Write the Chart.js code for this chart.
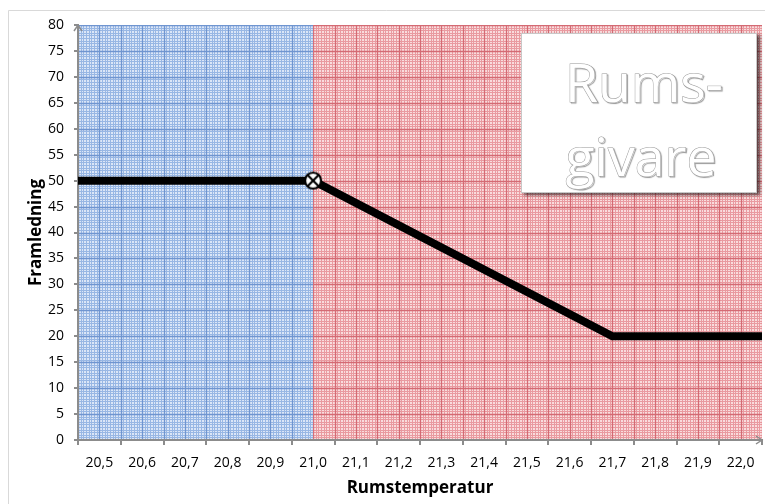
<!DOCTYPE html>
<html>
<head>
<meta charset="utf-8">
<title>Rumsgivare</title>
<script src="https://cdn.jsdelivr.net/npm/chart.js@4.4.1/dist/chart.umd.min.js"></script>
<style>
  html, body { margin: 0; padding: 0; background: #ffffff; }
  #wrap { width: 765px; height: 504px; }
</style>
</head>
<body>
<div id="wrap"><canvas id="chart" width="765" height="504"></canvas></div>
<script>
// Room temperature categories shown on the x axis
const tempLabels = ['20,5', '20,6', '20,7', '20,8', '20,9', '21,0', '21,1', '21,2',
                    '21,3', '21,4', '21,5', '21,6', '21,7', '21,8', '21,9', '22,0'];
// Flow temperature tick values on the y axis
const flowTicks = [0, 5, 10, 15, 20, 25, 30, 35, 40, 45, 50, 55, 60, 65, 70, 75, 80];

// Control curve: room temperature -> flow temperature
const curveTemp = [20.45, 21.0, 21.7, 22.05];
const curveFlow = [50, 50, 20, 20];
// Setpoint where heating (blue) turns into reduction (red)
const setpointTemp = 21.0;
const markerIndex = 1;

const FONT = '"Open Sans", "Liberation Sans", sans-serif';
const AXIS_GREY = '#8c8c8c';

// Circle-with-cross marker used at the setpoint
function makeMarker() {
  const c = document.createElement('canvas');
  c.width = 22; c.height = 22;
  const g = c.getContext('2d');
  const r = 8, cx = 11, cy = 11;
  g.beginPath(); g.arc(cx, cy, r, 0, Math.PI * 2);
  g.fillStyle = '#ffffff'; g.fill();
  g.lineWidth = 2.2; g.strokeStyle = '#000000'; g.stroke();
  const d = r * Math.SQRT1_2;
  g.beginPath();
  g.moveTo(cx - d, cy - d); g.lineTo(cx + d, cy + d);
  g.moveTo(cx + d, cy - d); g.lineTo(cx - d, cy + d);
  g.stroke();
  return c;
}
const marker = makeMarker();

// Graph-paper background, chart frame and axis arrows
const paperPlugin = {
  id: 'paper',
  beforeDraw(chart) {
    const ctx = chart.ctx;
    const a = chart.chartArea;
    const xs = chart.scales.xv, ys = chart.scales.y;
    ctx.save();
    ctx.fillStyle = '#ffffff';
    ctx.fillRect(0, 0, chart.width, chart.height);
    // outer frame
    ctx.strokeStyle = '#d9d9d9'; ctx.lineWidth = 1;
    ctx.beginPath();
    ctx.moveTo(8.5, chart.height); ctx.lineTo(8.5, 10.5); ctx.lineTo(chart.width, 10.5);
    ctx.stroke();

    const split = xs.getPixelForValue(setpointTemp);
    const regions = [
      { x0: a.left, x1: split, base: '#dbe6f7', fine: '#98b7e4', major: '#6f95d0' },
      { x0: split, x1: a.right, base: '#f9dcdd', fine: '#e99aa0', major: '#d46a73' }
    ];
    const xMajor = 0.05, xFine = xMajor / 8;
    const yMajor = 5, yFine = 0.5;
    const x0v = xs.min;
    regions.forEach(r => {
      ctx.save();
      ctx.beginPath(); ctx.rect(r.x0, a.top, r.x1 - r.x0, a.bottom - a.top); ctx.clip();
      ctx.fillStyle = r.base;
      ctx.fillRect(r.x0, a.top, r.x1 - r.x0, a.bottom - a.top);
      // fine lines
      ctx.strokeStyle = r.fine; ctx.lineWidth = 1;
      ctx.beginPath();
      for (let v = x0v; v <= xs.max + 1e-9; v += xFine) {
        const px = Math.round(xs.getPixelForValue(v)) + 0.5;
        ctx.moveTo(px, a.top); ctx.lineTo(px, a.bottom);
      }
      for (let v = 0; v <= ys.max + 1e-9; v += yFine) {
        const py = Math.round(ys.getPixelForValue(v)) + 0.5;
        ctx.moveTo(a.left, py); ctx.lineTo(a.right, py);
      }
      ctx.stroke();
      // major lines
      ctx.strokeStyle = r.major; ctx.lineWidth = 1.3;
      ctx.beginPath();
      for (let v = x0v; v <= xs.max + 1e-9; v += xMajor) {
        const px = Math.round(xs.getPixelForValue(v)) + 0.5;
        ctx.moveTo(px, a.top); ctx.lineTo(px, a.bottom);
      }
      for (let v = 0; v <= ys.max + 1e-9; v += yMajor) {
        const py = Math.round(ys.getPixelForValue(v)) + 0.5;
        ctx.moveTo(a.left, py); ctx.lineTo(a.right, py);
      }
      ctx.stroke();
      ctx.restore();
    });
    ctx.restore();
  },
  afterDraw(chart) {
    const ctx = chart.ctx;
    const a = chart.chartArea;
    ctx.save();
    // axis arrow heads
    ctx.strokeStyle = AXIS_GREY; ctx.lineWidth = 1.5;
    ctx.beginPath();
    ctx.moveTo(a.left - 4, a.top + 6); ctx.lineTo(a.left, a.top); ctx.lineTo(a.left + 4, a.top + 6);
    ctx.moveTo(a.right - 6, a.bottom - 4); ctx.lineTo(a.right, a.bottom); ctx.lineTo(a.right - 6, a.bottom + 4);
    ctx.stroke();

    // "Rumsgivare" text box
    const bx = 521, by = 33, bw = 236, bh = 160;
    ctx.save();
    ctx.shadowColor = 'rgba(0,0,0,0.6)';
    ctx.shadowOffsetX = 3; ctx.shadowOffsetY = 2; ctx.shadowBlur = 3;
    ctx.fillStyle = '#ffffff';
    ctx.fillRect(bx, by, bw, bh);
    ctx.restore();
    ctx.strokeStyle = '#c8c8c8'; ctx.lineWidth = 1;
    ctx.strokeRect(bx + 0.5, by + 0.5, bw - 1, bh - 1);

    const lines = [{ t: 'Rums-', y: 102, x: 644 }, { t: 'givare', y: 176, x: 641 }];
    ctx.font = '100px ' + FONT;
    const size = 100 * 158 / ctx.measureText('Rums-').width;
    ctx.font = size.toFixed(1) + 'px ' + FONT;
    ctx.textAlign = 'center'; ctx.textBaseline = 'alphabetic';
    lines.forEach(l => {
      ctx.save();
      ctx.shadowColor = 'rgba(0,0,0,0.45)';
      ctx.shadowOffsetX = 1.2; ctx.shadowOffsetY = 1.2; ctx.shadowBlur = 1;
      ctx.strokeStyle = '#9a9a9a'; ctx.lineWidth = 1;
      ctx.strokeText(l.t, l.x, l.y);
      ctx.restore();
      ctx.fillStyle = '#ffffff';
      ctx.fillText(l.t, l.x, l.y);
    });
    ctx.restore();
  }
};

new Chart(document.getElementById('chart'), {
  type: 'line',
  data: {
    labels: tempLabels,
    datasets: [{
      label: 'Framledning',
      xAxisID: 'xv',
      yAxisID: 'y',
      data: curveTemp.map((t, i) => ({ x: t, y: curveFlow[i] })),
      borderColor: '#000000',
      borderWidth: 8,
      borderJoinStyle: 'miter',
      borderCapStyle: 'butt',
      tension: 0,
      fill: false,
      pointRadius: curveTemp.map((_, i) => i === markerIndex ? 9 : 0),
      pointHoverRadius: curveTemp.map((_, i) => i === markerIndex ? 9 : 0),
      pointStyle: curveTemp.map((_, i) => i === markerIndex ? marker : 'circle')
    }]
  },
  options: {
    responsive: false,
    animation: false,
    devicePixelRatio: 1,
    layout: { padding: { top: 25, right: 3, left: 0, bottom: 0 } },
    plugins: { legend: { display: false }, tooltip: { enabled: false } },
    scales: {
      xv: {
        type: 'linear', display: false,
        min: 20.45, max: 22.05
      },
      x: {
        type: 'category',
        position: 'bottom',
        offset: true,
        afterFit(scale) { scale.height = 64; },
        grid: { display: true, offset: true, drawOnChartArea: false, tickLength: 5, lineWidth: 2, color: AXIS_GREY },
        border: { display: true, color: AXIS_GREY, width: 2 },
        ticks: { color: '#000000', font: { family: FONT, size: 14 }, padding: 10, maxRotation: 0, autoSkip: false },
        title: { display: true, text: 'Rumstemperatur', color: '#000000',
                 font: { family: FONT, size: 17, weight: 'bold' }, padding: { top: 0, bottom: 6 } }
      },
      y: {
        type: 'linear',
        position: 'left',
        min: 0, max: 80,
        afterBuildTicks(scale) { scale.ticks = flowTicks.map(v => ({ value: v })); },
        afterFit(scale) { scale.width = 78; },
        grid: { display: true, drawOnChartArea: false, tickLength: 4, lineWidth: 2, color: AXIS_GREY },
        border: { display: true, color: AXIS_GREY, width: 2 },
        ticks: { color: '#000000', font: { family: FONT, size: 14 }, padding: 10 },
        title: { display: true, text: 'Framledning', color: '#000000',
                 font: { family: FONT, size: 17, weight: 'bold' }, padding: { top: 26, bottom: 0 } }
      }
    }
  },
  plugins: [paperPlugin]
});
</script>
</body>
</html>
